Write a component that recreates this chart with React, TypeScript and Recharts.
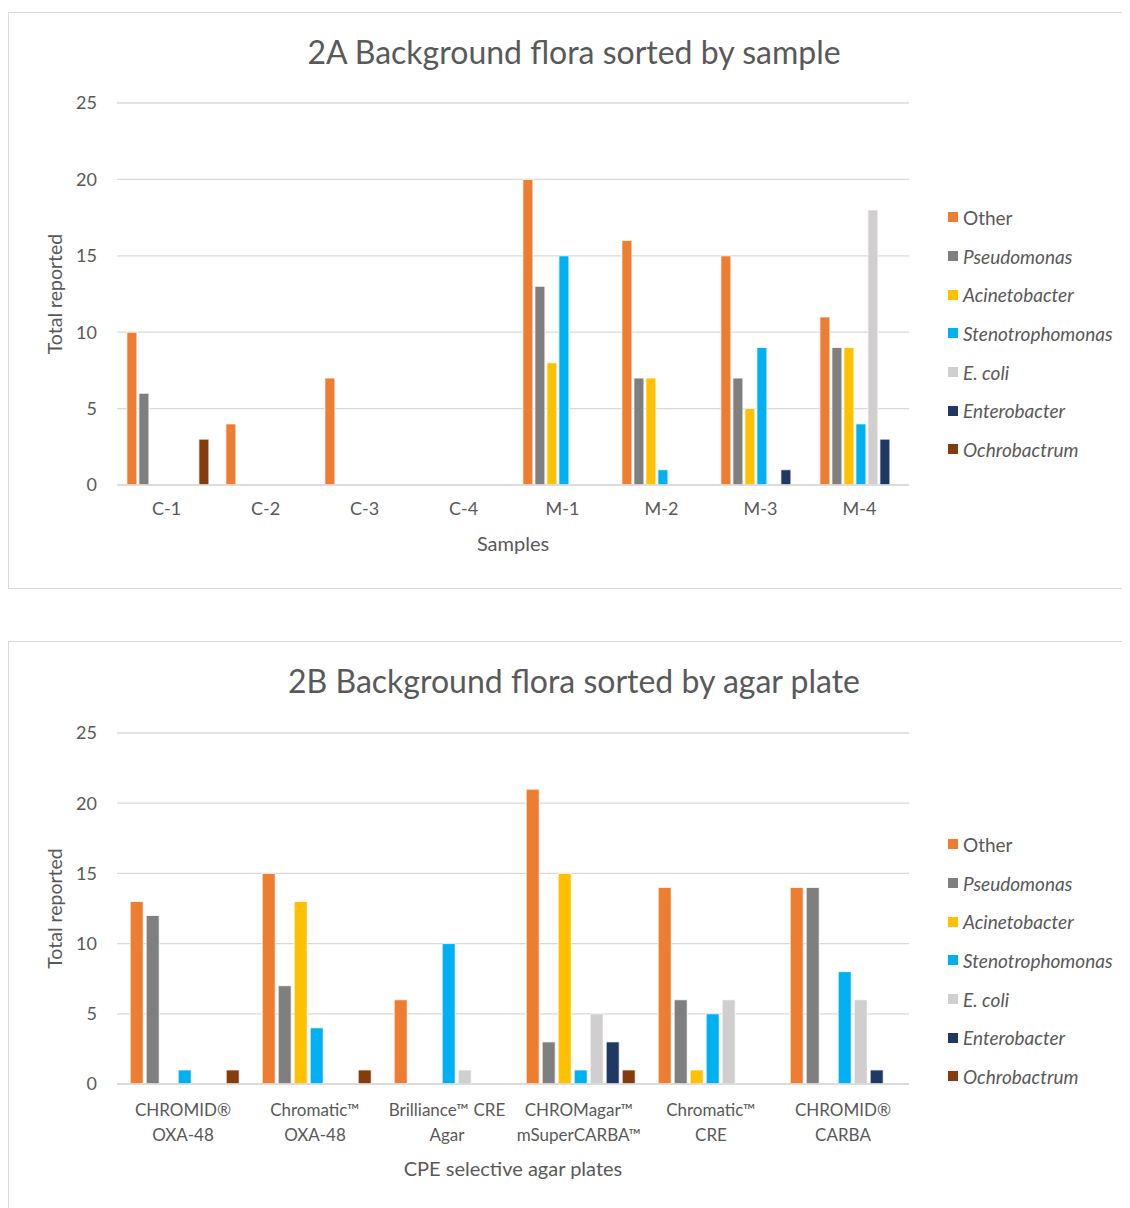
import React from "react";
import { Bar, BarChart, CartesianGrid, Legend, XAxis, YAxis } from "recharts";

// series shared by both panels
const seriesKeys = ["other", "pseudomonas", "acinetobacter", "steno", "ecoli", "enterobacter", "ochrobactrum"];
const seriesNames = ["Other", "Pseudomonas", "Acinetobacter", "Stenotrophomonas", "E. coli", "Enterobacter", "Ochrobactrum"];
const seriesItalic = [false, true, true, true, true, true, true];
const seriesColors = ["#ED7D31", "#7F7F7F", "#FFC000", "#00B0F0", "#D0CECE", "#203864", "#843C0C"];

const yTicks = [0, 5, 10, 15, 20, 25];

// 2A - by sample
const sampleCategories = ["C-1", "C-2", "C-3", "C-4", "M-1", "M-2", "M-3", "M-4"];
const sampleOther = [10, 4, 7, 0, 20, 16, 15, 11];
const samplePseudomonas = [6, 0, 0, 0, 13, 7, 7, 9];
const sampleAcinetobacter = [0, 0, 0, 0, 8, 7, 5, 9];
const sampleSteno = [0, 0, 0, 0, 15, 1, 9, 4];
const sampleEcoli = [0, 0, 0, 0, 0, 0, 0, 18];
const sampleEnterobacter = [0, 0, 0, 0, 0, 0, 1, 3];
const sampleOchrobactrum = [3, 0, 0, 0, 0, 0, 0, 0];

// 2B - by agar plate
const plateCategories = [
  "CHROMID® OXA-48",
  "Chromatic™ OXA-48",
  "Brilliance™ CRE Agar",
  "CHROMagar™ mSuperCARBA™",
  "Chromatic™ CRE",
  "CHROMID® CARBA",
];
const plateLabelLines = [
  ["CHROMID®", "OXA-48"],
  ["Chromatic™", "OXA-48"],
  ["Brilliance™ CRE", "Agar"],
  ["CHROMagar™", "mSuperCARBA™"],
  ["Chromatic™", "CRE"],
  ["CHROMID®", "CARBA"],
];
const plateOther = [13, 15, 6, 21, 14, 14];
const platePseudomonas = [12, 7, 0, 3, 6, 14];
const plateAcinetobacter = [0, 13, 0, 15, 1, 0];
const plateSteno = [1, 4, 10, 1, 5, 8];
const plateEcoli = [0, 0, 1, 5, 6, 6];
const plateEnterobacter = [0, 0, 0, 3, 0, 1];
const plateOchrobactrum = [1, 1, 0, 1, 0, 0];

const buildRows = (cats: string[], cols: number[][]) =>
  cats.map((name, i) => {
    const row: Record<string, string | number> = { name };
    seriesKeys.forEach((k, s) => (row[k] = cols[s][i]));
    return row;
  });

const sampleData = buildRows(sampleCategories, [
  sampleOther, samplePseudomonas, sampleAcinetobacter, sampleSteno,
  sampleEcoli, sampleEnterobacter, sampleOchrobactrum,
]);
const plateData = buildRows(plateCategories, [
  plateOther, platePseudomonas, plateAcinetobacter, plateSteno,
  plateEcoli, plateEnterobacter, plateOchrobactrum,
]);

const FONT = "Lato, 'Open Sans', sans-serif";
const TEXT = "#595959";
const GRID = "#d9d9d9";

const LegendList = () => (
  <div style={{ fontFamily: FONT, fontSize: 19, color: TEXT }}>
    {seriesNames.map((n, i) => (
      <div key={n} style={{ display: "flex", alignItems: "center", height: 38.7 }}>
        <span style={{ width: 10, height: 10, background: seriesColors[i], marginRight: 5, display: "inline-block" }} />
        <span style={{ fontStyle: seriesItalic[i] ? "italic" : "normal" }}>{n}</span>
      </div>
    ))}
  </div>
);

const PlateTick = (props: any) => {
  const { x, y, payload } = props;
  const idx = plateCategories.indexOf(payload.value);
  const lines = plateLabelLines[idx] || [payload.value];
  return (
    <text x={x} y={y} textAnchor="middle" fill={TEXT} fontSize={17} fontFamily={FONT}>
      {lines.map((l, i) => (
        <tspan key={i} x={x} dy={i === 0 ? 24 : 25}>{l}</tspan>
      ))}
    </text>
  );
};

const boxStyle: React.CSSProperties = {
  position: "relative",
  border: `1px solid ${GRID}`,
  borderRight: "none",
  width: 1200,
  background: "#fff",
};

const titleStyle: React.CSSProperties = {
  position: "absolute",
  left: 0,
  width: 1130,
  textAlign: "center",
  fontFamily: FONT,
  fontSize: 32,
  color: TEXT,
  lineHeight: "36px",
  whiteSpace: "nowrap",
};

function Panel({ title, data, xTitle, height, plateTicks, barGap, legendTop }: any) {
  const bottomSpace = plateTicks ? 158 : 103;
  const axisH = plateTicks ? 97 : 71;
  return (
    <div style={{ ...boxStyle, height }}>
      <div style={{ ...titleStyle, top: 21 }}>{title}</div>
      <BarChart
        width={1121}
        height={height}
        data={data}
        margin={{ top: plateTicks ? 91 : 90, right: 221, left: 0, bottom: bottomSpace - axisH }}
        barCategoryGap="10%"
        barGap={barGap}
        style={{ fontFamily: FONT }}
      >
        <CartesianGrid vertical={false} stroke={GRID} strokeWidth={1.3} />
        <XAxis
          dataKey="name"
          height={axisH}
          axisLine={{ stroke: GRID, strokeWidth: 1.3 }}
          tickLine={false}
          tickMargin={plateTicks ? 2 : 11}
          tick={plateTicks ? <PlateTick /> : { fill: TEXT, fontSize: 18 }}
          interval={0}
          label={{ value: xTitle, position: "insideBottom", fill: TEXT, fontSize: 20 }}
        />
        <YAxis
          width={108}
          domain={[0, 25]}
          ticks={yTicks}
          axisLine={false}
          tickLine={false}
          tickMargin={14}
          tick={{ fill: TEXT, fontSize: 18 }}
          label={{ value: "Total reported", angle: -90, position: "center", dx: -8, fill: TEXT, fontSize: 19.5 }}
        />
        <Legend
          layout="vertical"
          align="center"
          verticalAlign="middle"
          content={() => <LegendList />}
          wrapperStyle={{ left: 939, top: legendTop, width: 200 }}
        />
        {seriesKeys.map((k, i) => (
          <Bar
            key={k}
            dataKey={k}
            name={seriesNames[i]}
            fill={seriesColors[i]}
            stroke="#fff"
            strokeWidth={0.8}
            isAnimationActive={false}
          />
        ))}
      </BarChart>
    </div>
  );
}

export default function App() {
  return (
    <div style={{ paddingTop: 4 }}>
      <style>{"html { overflow: hidden; }"}</style>
      <Panel
        title="2A Background flora sorted by sample"
        data={sampleData}
        xTitle="Samples"
        height={575}
        plateTicks={false}
        barGap={2}
        legendTop={185}
      />
      <div style={{ height: 52 }} />
      <Panel
        title="2B Background flora sorted by agar plate"
        data={plateData}
        xTitle="CPE selective agar plates"
        height={600}
        plateTicks={true}
        barGap={3}
        legendTop={183}
      />
    </div>
  );
}
